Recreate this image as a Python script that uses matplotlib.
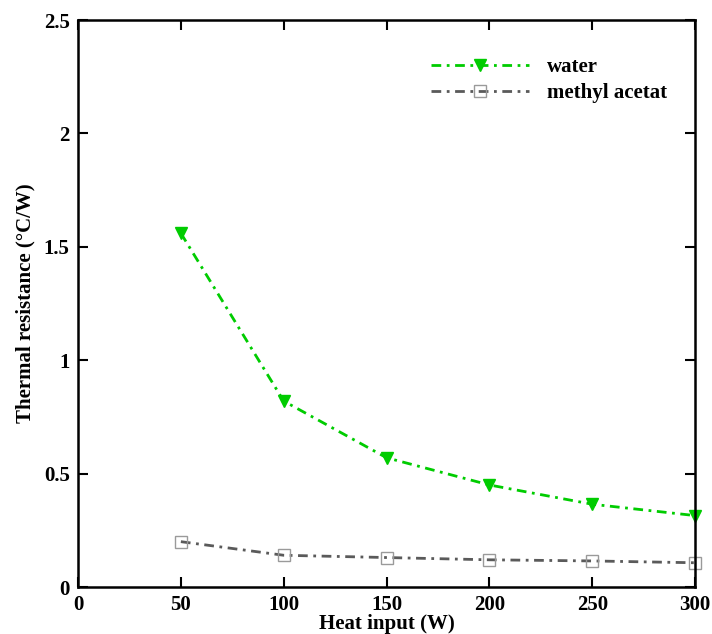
import numpy as np
from matplotlib import pyplot as plt

# heat input (W)
heat_input = [50, 100, 150, 200, 250, 300]

# thermal resistance (C/W)
r_water = [1.56, 0.82, 0.57, 0.45, 0.365, 0.315]
r_methyl = [0.20, 0.14, 0.13, 0.12, 0.115, 0.107]

x_ticks = [0, 50, 100, 150, 200, 250, 300]
y_ticks = [0, 0.5, 1, 1.5, 2, 2.5]
y_tick_labels = ['0', '0.5', '1', '1.5', '2', '2.5']

plt.rcParams['font.family'] = ['Liberation Serif', 'DejaVu Serif']
plt.rcParams['font.weight'] = 'bold'

fig = plt.figure(figsize=(7.12, 6.34), dpi=100)
ax = fig.add_axes([0.1096, 0.0741, 0.8666, 0.8943])

dash = (3.5, 2.0, 1.0, 2.0)
ax.plot(heat_input, r_water, color='#00cc00', linestyle='-.', linewidth=2.0,
        marker='v', markersize=8, markerfacecolor='#00cc00', markeredgecolor='#00cc00',
        label='water', dashes=dash, clip_on=False)
ax.plot(heat_input, r_methyl, color='#5a5a5a', linestyle='-.', linewidth=2.0,
        marker='s', markersize=8, markerfacecolor='none', markeredgecolor='#9a9a9a',
        markeredgewidth=1.0, label='methyl acetat', dashes=dash, clip_on=False)

ax.set_xlim(0, 300)
ax.set_ylim(0, 2.5)
ax.set_xticks(x_ticks)
ax.set_yticks(y_ticks)
ax.set_yticklabels(y_tick_labels)

ax.tick_params(direction='in', length=7, width=1.5, top=True, right=True,
               labelsize=15, pad=6)
for s in ax.spines.values():
    s.set_linewidth(1.8)

ax.set_xlabel('Heat input (W)', fontsize=15, fontweight='bold', labelpad=-1)
ax.set_ylabel('Thermal resistance (°C/W)', fontsize=15, fontweight='bold', labelpad=6)

leg = ax.legend(loc='upper right', bbox_to_anchor=(0.985, 0.968), frameon=False,
                fontsize=15, handlelength=4.7, handletextpad=0.85, labelspacing=0.3)

plt.savefig('out.png', dpi=100)
